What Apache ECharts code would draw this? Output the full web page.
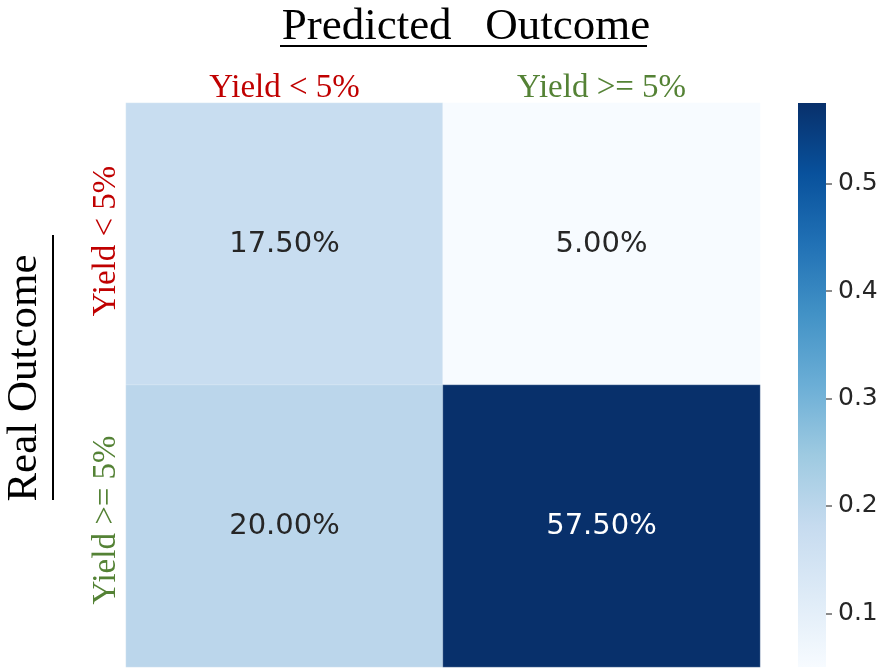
<!DOCTYPE html>
<html><head><meta charset="utf-8">
<script src="https://cdn.jsdelivr.net/npm/echarts@6/dist/echarts.min.js"></script>
<style>html,body{margin:0;padding:0;background:#fff}#c{width:894px;height:670px}</style>
</head><body><div id="c"></div>
<script>
const predCategories = ['Yield < 5%', 'Yield >= 5%'];
const realCategories = ['Yield < 5%', 'Yield >= 5%'];
const catColors = ['#c00000', '#548235'];
// rows: real outcome, cols: predicted outcome
const rowLess = [0.175, 0.05];
const rowMore = [0.20, 0.575];
const colorbarTicks = [0.1, 0.2, 0.3, 0.4, 0.5];
const cbMin = 0.05, cbMax = 0.575;

const data = [];
[rowLess, rowMore].forEach((row, r) => row.forEach((v, c) => data.push([c, r, v])));

const blues = ['#f7fbff','#deebf7','#c6dbef','#9ecae1','#6baed6','#4292c6','#2171b5','#08519c','#08306b'];
const chart = echarts.init(document.getElementById('c'));
const serif = '"Liberation Serif", "Times New Roman", serif';
const sans = '"DejaVu Sans", sans-serif';
const richCats = { c0: { color: catColors[0], fontFamily: serif, fontSize: 33 }, c1: { color: catColors[1], fontFamily: serif, fontSize: 33 } };
const richCatsY = { c0: { color: catColors[0], fontFamily: serif, fontSize: 33, padding: [0, 0, 0, 6] }, c1: { color: catColors[1], fontFamily: serif, fontSize: 33, padding: [0, 0, 0, 12] } };
chart.setOption({
  animation: false,
  title: {
    text: 'Predicted   Outcome', left: 461, top: 0, textAlign: 'center',
    textStyle: { fontFamily: serif, fontSize: 45, fontWeight: 'normal', color: '#000' }
  },
  grid: [
    { left: 126, right: 134, top: 103, bottom: 3 },
    { left: 798, width: 28, top: 103, bottom: 3 }
  ],
  xAxis: [
    { type: 'category', data: predCategories, position: 'top', gridIndex: 0,
      axisLine: { show: false }, axisTick: { show: false }, splitArea: { show: false },
      axisLabel: { margin: -2, formatter: (v, i) => '{c' + i + '|' + v + '}', rich: richCats } },
    { type: 'value', gridIndex: 1, show: false, min: 0, max: 1 }
  ],
  yAxis: [
    { type: 'category', data: realCategories, inverse: true, gridIndex: 0,
      axisLine: { show: false }, axisTick: { show: false },
      axisLabel: { rotate: 90, margin: 3, formatter: (v, i) => '{c' + i + '|' + v + '}', rich: richCatsY } },
    { type: 'value', gridIndex: 1, position: 'right', min: cbMin, max: cbMax,
      splitLine: { show: false }, axisLine: { show: false, onZero: false },
      axisTick: { show: true, inside: false, length: 6, lineStyle: { color: '#666', width: 1.5 }, customValues: colorbarTicks },
      axisLabel: { margin: 12, fontFamily: sans, fontSize: 25, color: '#262626',
        customValues: colorbarTicks, formatter: v => String(Math.round(v * 10) / 10) } }
  ],
  visualMap: {
    type: 'continuous', min: cbMin, max: cbMax, show: false, seriesIndex: 0,
    inRange: { color: blues }
  },
  series: [{
    type: 'heatmap', data: data, xAxisIndex: 0, yAxisIndex: 0,
    itemStyle: { borderColor: 'rgba(255,255,255,0.25)', borderWidth: 1 },
    label: { show: true, fontFamily: sans, fontSize: 29,
      formatter: p => (p.value[2] * 100).toFixed(2) + '%',
      color: '#262626' }
  }],
  graphic: [
    { type: 'line', shape: { x1: 280, y1: 46, x2: 647, y2: 46 }, style: { stroke: '#000', lineWidth: 2 } },
    { type: 'text', x: 25, y: 378, rotation: Math.PI / 2,
      style: { text: 'Real Outcome', fontFamily: serif, fontSize: 43, fill: '#000', align: 'center', verticalAlign: 'middle' } },
    { type: 'line', shape: { x1: 53, y1: 235, x2: 53, y2: 500 }, style: { stroke: '#000', lineWidth: 2 } },
    { type: 'rect', shape: { x: 798, y: 103, width: 28, height: 564 }, z: -1,
      style: { fill: new echarts.graphic.LinearGradient(0, 1, 0, 0,
        blues.map((c, i) => ({ offset: i / (blues.length - 1), color: c }))) } }
  ]
});
chart.setOption({ series: [{ data: data.map(d => d[2] > 0.4 ? { value: d, label: { color: '#ffffff' } } : d) }] });
</script></body></html>
